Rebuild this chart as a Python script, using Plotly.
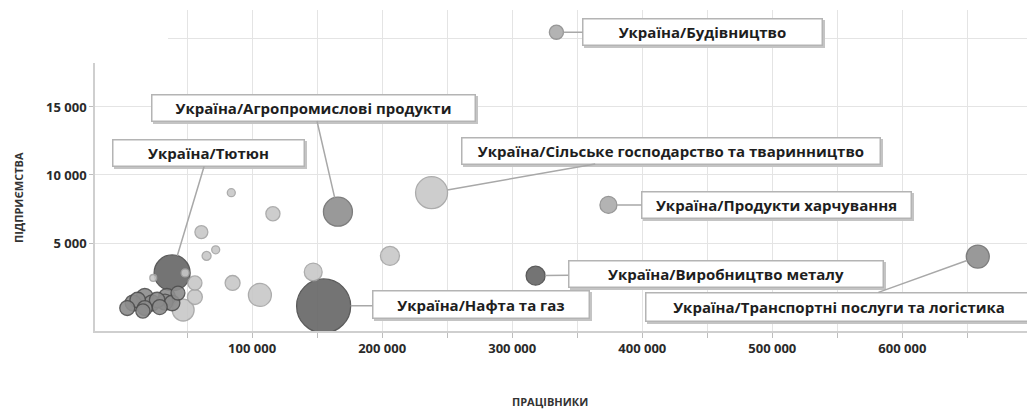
import plotly.graph_objects as go
import pandas as pd

# ---------------- data ----------------
labels = [
    "Україна/Будівництво", "Україна/Агропромислові продукти", "Україна/Тютюн",
    "Україна/Сільське господарство та тваринництво", "Україна/Продукти харчування",
    "Україна/Виробництво металу", "Україна/Нафта та газ",
    "Україна/Транспортні послуги та логістика",
    None, None, None, None, None, None, None, None, None, None, None, None, None, None,
    None, None, None, None, None, None, None, None, None, None, None, None, None,
]
workers = [
    334000, 166000, 38500, 238000, 374000, 318000, 155000, 658000,
    84000, 116000, 61000, 72000, 65000, 48500, 24000, 56000, 56000, 47000, 85000, 106000, 147000, 206000,
    4000, 8500, 12000, 17500, 17500, 23000, 27000, 29000, 33000, 34500, 38500, 16000, 43000,
]
enterprises = [
    20500, 7300, 2800, 8700, 7800, 2600, 370, 4000,
    8700, 7150, 5800, 4500, 4050, 2800, 2430, 2060, 1030, 70, 2060, 1180, 2870, 4050,
    220, 590, 810, 1030, 220, 590, 810, 290, 660, 1030, 590, 0, 1320,
]
volume = [
    25, 105, 162, 128, 36, 45, 365, 66,
    8, 25, 21, 8, 10, 8, 6, 25, 28, 60, 28, 66, 40, 45,
    28, 32, 30, 36, 28, 32, 30, 28, 32, 36, 30, 25, 24,
]
group = [
    "mid", "middark", "dark", "light", "mid", "dark", "dark", "middark",
    "light", "light", "light", "light", "light", "light", "light", "light", "light", "light",
    "light", "light", "light", "light",
    "cluster", "cluster", "cluster", "cluster", "cluster", "cluster", "cluster", "cluster",
    "cluster", "cluster", "cluster", "cluster", "cluster",
]

x_tick_values = [50000, 100000, 150000, 200000, 250000, 300000, 350000, 400000,
                 450000, 500000, 550000, 600000, 650000]
x_tick_text = ["", "100 000", "", "200 000", "", "300 000", "", "400 000",
               "", "500 000", "", "600 000", ""]
y_tick_values = [5000, 10000, 15000, 20000]
y_tick_text = ["5 000", "10 000", "15 000", ""]

x_title = "ПРАЦІВНИКИ"
y_title = "ПІДПРИЄМСТВА"

# ---------------- styles ----------------
fill = {"light": "#c8c8c8", "mid": "#ababab", "middark": "#8f8f8f",
        "dark": "#666666", "cluster": "#8c8c8c"}
edge = {"light": "#a4a4a4", "mid": "#8c8c8c", "middark": "#707070",
        "dark": "#4a4a4a", "cluster": "#4e4e4e"}

# label box placement: (dx px, dy px, box width, box height)
label_boxes = {
    "Україна/Будівництво": (146, 0, 241, 28),
    "Україна/Агропромислові продукти": (-24, -104, 325, 28),
    "Україна/Тютюн": (36, -120, 193, 28),
    "Україна/Сільське господарство та тваринництво": (239, -42, 420, 28),
    "Україна/Продукти харчування": (168, 0, 271, 28),
    "Україна/Виробництво металу": (190, -2, 316, 28),
    "Україна/Нафта та газ": (157, -1, 218, 29),
    "Україна/Транспортні послуги та логістика": (-139, 50, 388, 30),
}

# page offset: the HTML body adds an 8 px margin around the figure
PAGE = 8
PLOT_L, PLOT_R, PLOT_T, PLOT_B = 95, 1035, 10, 331   # plot area in page pixels
FIG_W, FIG_H = 1035 - PAGE, 412 - PAGE
PW, PH = PLOT_R - PLOT_L, PLOT_B - PLOT_T


def px_x(px):
    return (px - PLOT_L) / PW


def px_y(py):
    return (PLOT_B - py) / PH


df = pd.DataFrame({"label": labels, "x": workers, "y": enterprises,
                   "v": volume, "g": group})
df = df.sort_values("v", ascending=False, kind="stable")

SIZEREF = 0.25

fig = go.Figure()
fig.add_trace(go.Scatter(
    x=df["x"], y=df["y"], mode="markers",
    marker=dict(size=df["v"], sizemode="area", sizeref=SIZEREF,
                color=[fill[g] for g in df["g"]],
                line=dict(color=[edge[g] for g in df["g"]], width=1.3),
                opacity=0.9),
    hoverinfo="skip", showlegend=False,
))

annotations = []
lab_df = df[df["label"].notna()]
for _, r in lab_df.iterrows():
    dx, dy, w, h = label_boxes[r["label"]]
    # box shadow
    annotations.append(dict(
        x=r["x"], y=r["y"], xref="x", yref="y", showarrow=False,
        text=" ", xshift=dx + 2, yshift=-dy - 2, width=w - 3, height=h - 3,
        bgcolor="#c4c4c4", borderpad=0, borderwidth=1.5, bordercolor="#c4c4c4",
    ))
for _, r in lab_df.iterrows():
    dx, dy, w, h = label_boxes[r["label"]]
    radius = (r["v"] / 2 / SIZEREF) ** 0.5
    annotations.append(dict(
        x=r["x"], y=r["y"], xref="x", yref="y", text=r["label"],
        showarrow=True, arrowhead=0, arrowwidth=1.5, arrowcolor="#a8a8a8",
        ax=dx, ay=dy, standoff=radius,
        width=w - 3, height=h - 3, align="center", valign="middle",
        bgcolor="white", bordercolor="#b4b4b4", borderwidth=1.5, borderpad=0,
        font=dict(family="Open Sans", size=15, color="#1e1e1e", weight=700),
    ))

# axis titles
annotations.append(dict(
    x=px_x(550), y=px_y(401), xref="paper", yref="paper",
    text=x_title, showarrow=False, xanchor="center", yanchor="middle",
    font=dict(family="Open Sans", size=11, color="#333333", weight=700),
))
annotations.append(dict(
    x=px_x(18), y=px_y(198), xref="paper", yref="paper",
    text=y_title, showarrow=False, textangle=-90, xanchor="center", yanchor="middle",
    font=dict(family="Open Sans", size=11, color="#333333", weight=700),
))

tick_font = dict(family="Open Sans", size=13, color="#2a2a2a", weight=700)

fig.update_layout(
    width=FIG_W, height=FIG_H,
    margin=dict(l=PLOT_L - PAGE, r=FIG_W - (PLOT_R - PAGE), t=PLOT_T - PAGE,
                b=FIG_H - (PLOT_B - PAGE), autoexpand=False),
    paper_bgcolor="white", plot_bgcolor="white",
    annotations=annotations,
    shapes=[dict(type="rect", xref="paper", yref="paper",
                 x0=-0.02, x1=px_x(168), y0=px_y(63), y1=1.02,
                 fillcolor="white", line=dict(width=0), layer="above")],
    xaxis=dict(range=[-20800, 702000], tickvals=x_tick_values, ticktext=x_tick_text,
               showgrid=True, gridcolor="#e4e4e4", gridwidth=1, zeroline=False,
               showline=True, linecolor="#cfcfcf", linewidth=1.5,
               ticks="outside", ticklen=5, tickcolor="#bdbdbd",
               tickfont=tick_font, automargin=False),
    yaxis=dict(range=[-1470, 22130], tickvals=y_tick_values, ticktext=y_tick_text,
               showgrid=True, gridcolor="#e4e4e4", gridwidth=1, zeroline=False,
               showline=True, linecolor="#cfcfcf", linewidth=1.5,
               ticks="outside", ticklen=4, tickcolor="#bdbdbd",
               tickfont=tick_font, automargin=False),
)

fig.write_html("out.html")
